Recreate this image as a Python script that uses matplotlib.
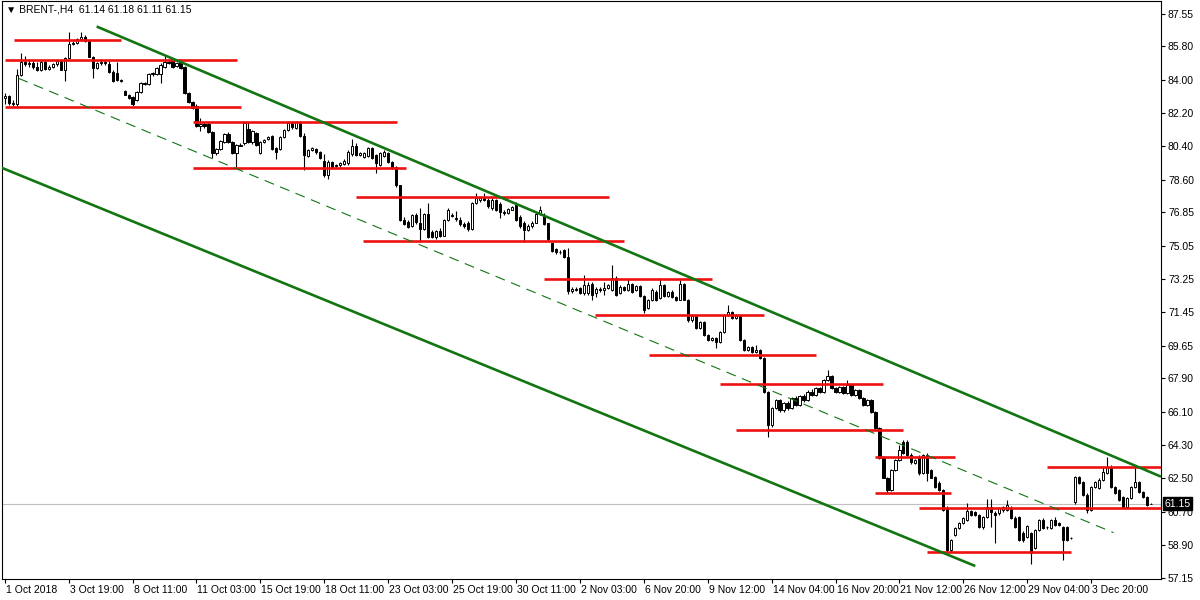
import numpy as np
import matplotlib
matplotlib.use("Agg")
import matplotlib.pyplot as plt
import matplotlib.transforms as mtransforms

plt.rcParams['font.family'] = ['Liberation Sans', 'DejaVu Sans']

# BRENT H4 candles (bar 0 = 1 Oct 2018)
opens = [83.0, 83.1, 82.75, 82.7, 84.25, 84.95, 84.85, 84.9, 84.7, 84.55,
         84.95, 84.6, 84.7, 84.85, 85.0, 84.55, 85.15, 85.9, 86.0, 86.2,
         86.3, 86.1, 85.25, 84.65, 84.9, 84.95, 84.85, 84.4, 84.35, 84.0,
         83.4, 83.2, 83.05, 82.9, 83.35, 83.8, 83.75, 84.3, 84.3, 84.3,
         84.7, 84.95, 85.0, 84.75, 84.95, 84.7, 83.3, 82.8, 82.6, 81.5,
         81.6, 81.6, 81.2, 80.05, 80.25, 80.65, 81.1, 80.65, 80.05, 80.5,
         80.6, 81.35, 80.65, 81.15, 80.05, 80.65, 80.8, 80.95, 80.3, 80.25,
         80.9, 81.3, 81.65, 81.4, 81.7, 80.95, 79.9, 80.2, 80.25, 80.1,
         79.6, 78.85, 79.55, 79.35, 79.4, 79.45, 79.5, 80.0, 80.4, 79.95,
         79.85, 79.9, 80.3, 79.95, 79.4, 79.9, 80.05, 79.55, 79.3, 78.3,
         76.45, 76.35, 76.1, 76.7, 76.3, 75.95, 76.75, 75.8, 75.5, 75.85,
         75.6, 76.45, 76.7, 76.55, 76.45, 76.2, 76.3, 75.95, 77.35, 77.5,
         77.7, 77.5, 77.1, 77.5, 77.3, 76.85, 76.8, 77.0, 77.25, 76.6,
         76.3, 75.9, 76.1, 76.3, 76.75, 76.7, 76.25, 75.2, 74.85, 74.7,
         74.8, 74.45, 72.6, 72.7, 72.75, 72.5, 72.5, 73.0, 72.5, 72.7,
         72.67, 72.77, 72.67, 73.31, 72.50, 72.83, 72.67, 72.99, 72.67, 72.88,
         72.34, 71.70, 72.13, 72.56, 72.24, 72.93, 72.34, 72.56, 72.29, 72.13,
         72.99, 72.13, 71.05, 71.26, 70.62, 70.94, 70.24, 69.97, 70.08, 69.86,
         70.40, 71.32, 71.48, 71.16, 71.26, 69.97, 69.43, 69.59, 69.32, 69.43,
         69.00, 67.16, 65.38, 66.30, 66.73, 66.19, 66.57, 66.30, 66.84, 66.46,
         66.95, 66.73, 67.16, 67.00, 67.38, 67.16, 67.81, 68.03, 67.38, 67.16,
         67.43, 67.11, 67.54, 67.00, 67.27, 66.84, 66.46, 66.73, 66.09, 65.22,
         63.60, 62.53, 61.88, 62.96, 63.50, 64.47, 64.47, 63.77, 63.33, 63.66,
         62.80, 63.77, 62.96, 62.58, 62.26, 61.88, 60.91, 58.64, 59.45, 59.83,
         60.10, 60.26, 60.75, 60.69, 60.53, 59.88, 60.42, 60.96, 60.64, 60.64,
         60.80, 60.80, 60.91, 60.37, 60.42, 59.56, 59.35, 59.56, 58.75, 59.72,
         60.26, 59.88, 59.83, 60.26, 60.10, 59.88, 59.88, 59.29, 61.23, 62.58,
         62.31, 61.61, 60.80, 62.04, 61.99, 62.42, 62.80, 63.12, 62.04, 61.88,
         61.50, 60.96, 61.45, 62.04, 62.31, 61.77, 61.50, 61.14]
highs = [83.3, 83.2, 82.9, 84.6, 85.45, 85.3, 85.1, 85.05, 84.95, 85.0,
         85.05, 84.8, 84.9, 85.1, 85.05, 85.2, 86.6, 86.1, 86.25, 86.55,
         86.4, 86.15, 85.3, 84.95, 85.1, 85.05, 85.0, 84.5, 84.95, 84.05,
         83.45, 83.25, 83.1, 83.4, 83.9, 83.9, 84.35, 84.4, 84.7, 84.9,
         85.3, 85.1, 85.05, 84.95, 85.0, 84.75, 83.35, 82.85, 82.7, 81.95,
         81.7, 81.7, 81.25, 80.3, 80.75, 81.15, 81.2, 80.7, 80.55, 80.6,
         81.8, 81.7, 81.3, 81.2, 80.7, 80.8, 80.95, 81.0, 80.35, 80.95,
         81.35, 81.75, 81.75, 81.8, 81.75, 81.15, 80.25, 80.35, 80.3, 80.15,
         80.0, 79.65, 79.6, 79.45, 79.55, 79.7, 80.2, 80.8, 80.6, 80.1,
         80.1, 80.35, 80.35, 80.0, 80.1, 80.2, 80.1, 79.6, 79.35, 78.35,
         76.6, 76.45, 76.75, 76.8, 77.1, 76.8, 77.35, 75.9, 75.9, 76.0,
         76.5, 77.1, 76.8, 76.9, 76.6, 76.35, 76.4, 77.4, 77.9, 77.7,
         77.9, 77.6, 77.6, 77.55, 77.4, 77.0, 77.1, 77.2, 77.4, 76.7,
         76.4, 76.2, 76.4, 76.8, 77.2, 76.8, 76.3, 75.25, 74.95, 74.8,
         74.85, 74.9, 72.8, 72.8, 72.85, 73.45, 73.1, 73.1, 72.8, 72.8,
         73.10, 73.0, 74.01, 73.4, 72.95, 72.9, 73.26, 73.05, 72.95, 72.95,
         72.4, 72.2, 72.75, 72.65, 73.31, 73.0, 72.6, 72.65, 72.35, 73.2,
         73.05, 72.2, 71.35, 71.3, 71.0, 71.0, 70.3, 70.15, 70.12, 70.45,
         71.35, 71.86, 71.55, 71.35, 71.3, 70.0, 69.65, 69.65, 69.70, 69.5,
         69.05, 67.2, 66.35, 66.8, 66.8, 66.65, 66.7, 66.9, 66.95, 67.0,
         67.05, 67.25, 67.3, 67.45, 67.45, 67.85, 68.35, 68.1, 67.45, 67.5,
         67.5, 67.81, 67.6, 67.3, 67.35, 66.9, 66.8, 66.8, 66.15, 65.3,
         63.7, 62.6, 62.99, 63.55, 64.30, 64.55, 64.58, 63.85, 63.55, 63.75,
         63.8, 63.88, 63.0, 62.65, 62.36, 61.95, 61.0, 59.25, 59.9, 60.15,
         60.42, 61.18, 60.8, 60.75, 60.6, 60.45, 61.40, 61.40, 60.75, 60.95,
         61.0, 61.34, 61.0, 60.45, 60.5, 59.65, 59.98, 59.6, 59.75, 60.3,
         60.35, 59.95, 60.3, 60.42, 60.15, 59.95, 59.95, 59.35, 62.65, 62.62,
         62.35, 61.7, 62.1, 62.36, 62.5, 63.12, 63.66, 63.2, 62.1, 61.95,
         61.55, 61.5, 62.1, 63.12, 62.35, 61.85, 61.55, 61.18]
lows = [82.7, 82.65, 82.6, 82.6, 84.2, 84.75, 84.7, 84.6, 84.45, 84.45,
        84.5, 84.5, 84.65, 84.75, 84.5, 83.95, 85.1, 85.85, 85.9, 86.1,
        86.05, 85.2, 84.1, 84.6, 84.8, 84.8, 84.35, 83.9, 83.95, 83.9,
        83.15, 82.95, 82.6, 82.85, 83.3, 83.7, 83.7, 84.2, 84.25, 83.85,
        84.65, 84.85, 84.65, 84.7, 84.6, 83.25, 82.75, 82.4, 81.45, 81.25,
        81.4, 81.15, 79.8, 79.95, 80.2, 80.6, 80.6, 80.0, 79.3, 80.4,
        80.5, 80.6, 80.55, 80.45, 80.0, 80.6, 80.75, 80.2, 79.7, 80.2,
        80.85, 81.25, 81.35, 81.35, 80.9, 79.15, 79.85, 80.15, 80.0, 79.75,
        78.75, 78.65, 79.25, 79.3, 79.3, 79.4, 79.4, 79.9, 79.9, 79.9,
        79.8, 79.85, 79.75, 78.95, 79.35, 79.85, 79.5, 79.2, 78.2, 76.4,
        76.15, 76.0, 76.05, 76.2, 75.25, 75.9, 75.45, 75.45, 75.4, 75.5,
        75.55, 76.4, 76.6, 76.4, 76.1, 76.0, 75.85, 75.9, 77.3, 77.4,
        77.45, 77.1, 77.0, 76.9, 76.55, 76.7, 76.75, 76.95, 76.4, 76.0,
        75.25, 75.85, 76.0, 76.25, 76.7, 76.15, 75.3, 74.7, 74.6, 74.6,
        74.4, 72.45, 72.5, 72.6, 72.45, 72.4, 72.4, 72.1, 72.3, 72.55,
        72.40, 72.7, 72.6, 72.35, 72.45, 72.6, 72.6, 72.5, 72.6, 72.3,
        71.42, 71.65, 72.05, 72.05, 72.2, 72.3, 72.3, 72.25, 72.05, 72.1,
        72.1, 70.95, 70.95, 70.55, 70.55, 70.2, 69.9, 69.9, 69.54, 69.8,
        70.35, 71.25, 71.1, 71.1, 69.9, 69.35, 69.35, 69.25, 69.25, 68.95,
        67.1, 64.74, 65.3, 66.25, 66.1, 66.1, 66.2, 66.25, 66.4, 66.4,
        66.65, 66.7, 66.95, 66.95, 67.1, 67.1, 67.75, 67.35, 67.1, 67.1,
        67.05, 67.05, 66.95, 66.95, 66.8, 66.4, 66.4, 66.05, 65.15, 63.55,
        62.5, 61.72, 61.8, 62.9, 63.45, 63.8, 63.7, 63.3, 63.3, 62.69,
        62.75, 62.36, 62.5, 62.0, 61.85, 60.75, 58.55, 58.55, 59.4, 59.78,
        60.05, 60.2, 60.45, 60.45, 59.85, 59.8, 60.35, 59.88, 59.02, 60.55,
        60.7, 60.75, 60.3, 59.85, 59.15, 59.1, 59.3, 57.89, 58.7, 59.65,
        59.8, 59.8, 59.78, 59.95, 59.95, 58.10, 59.15, 59.25, 61.15, 62.2,
        61.55, 60.64, 60.75, 62.0, 61.95, 62.35, 62.75, 62.0, 61.65, 61.3,
        60.9, 60.9, 61.4, 62.0, 61.7, 61.45, 61.0, 61.11]
closes = [83.1, 82.75, 82.7, 84.25, 84.95, 84.85, 84.9, 84.7, 84.55, 84.95,
          84.6, 84.7, 84.85, 85.0, 84.55, 85.15, 85.9, 86.0, 86.2, 86.3,
          86.1, 85.25, 84.65, 84.9, 84.95, 84.9, 84.4, 83.95, 84.0, 83.95,
          83.2, 83.0, 82.7, 83.35, 83.85, 83.75, 84.3, 84.35, 84.65, 84.8,
          84.95, 84.9, 84.7, 84.9, 84.65, 83.3, 82.8, 82.5, 81.5, 81.6,
          81.5, 81.2, 80.05, 80.25, 80.7, 81.1, 80.65, 80.05, 80.5, 80.45,
          81.65, 80.65, 81.25, 80.5, 80.65, 80.75, 80.9, 80.25, 80.1, 80.9,
          81.3, 81.65, 81.45, 81.7, 80.95, 79.95, 80.2, 80.3, 80.1, 79.8,
          78.85, 79.55, 79.3, 79.4, 79.5, 79.6, 80.1, 80.4, 79.95, 80.05,
          80.05, 80.3, 79.8, 79.5, 80.05, 80.1, 79.55, 79.3, 78.3, 76.45,
          76.2, 76.05, 76.7, 76.35, 75.95, 76.75, 75.5, 75.5, 75.85, 75.6,
          76.45, 76.95, 76.65, 76.5, 76.2, 76.1, 75.95, 77.35, 77.6, 77.6,
          77.5, 77.2, 77.5, 76.95, 76.85, 76.8, 77.05, 77.15, 76.45, 76.1,
          75.9, 76.1, 76.3, 76.75, 76.95, 76.2, 75.4, 74.75, 74.7, 74.7,
          74.45, 72.6, 72.7, 72.65, 72.5, 72.95, 72.95, 72.4, 72.7, 72.65,
          72.77, 72.93, 73.31, 72.40, 72.83, 72.67, 72.99, 72.56, 72.88, 72.34,
          71.59, 72.13, 72.67, 72.13, 72.93, 72.34, 72.56, 72.29, 72.13, 72.99,
          72.13, 71.05, 71.26, 70.62, 70.94, 70.24, 69.97, 70.08, 69.86, 70.40,
          71.32, 71.48, 71.16, 71.26, 69.97, 69.43, 69.59, 69.32, 69.43, 69.00,
          67.16, 65.38, 66.30, 66.73, 66.19, 66.57, 66.30, 66.84, 66.46, 66.95,
          66.73, 67.16, 67.00, 67.38, 67.16, 67.81, 68.03, 67.38, 67.16, 67.43,
          67.11, 67.54, 67.00, 67.27, 66.84, 66.46, 66.73, 66.09, 65.22, 63.60,
          62.53, 61.88, 62.96, 63.50, 64.04, 63.88, 63.77, 63.39, 63.50, 62.80,
          63.77, 62.80, 62.53, 62.04, 61.88, 60.80, 58.64, 59.18, 59.83, 60.10,
          60.37, 60.75, 60.53, 60.53, 59.88, 60.42, 60.96, 60.69, 60.53, 60.91,
          60.96, 61.07, 60.37, 59.88, 59.18, 59.18, 59.94, 58.48, 59.72, 60.26,
          59.83, 59.88, 60.26, 59.99, 59.99, 59.18, 59.18, 59.29, 62.58, 62.26,
          61.61, 60.80, 62.04, 62.31, 62.42, 62.85, 63.12, 62.04, 61.72, 61.34,
          60.96, 61.45, 62.04, 62.31, 61.77, 61.50, 61.07, 61.15]

# horizontal support / resistance levels: price, first bar, last bar
level_prices = [86.15, 85.07, 82.55, 81.74, 79.26, 77.70, 75.32, 73.26, 71.32,
                69.16, 67.60, 65.12, 63.68, 61.70, 60.91, 58.51, 63.13]
level_start = [2.2, 0, 0, 47.2, 47.2, 88, 89.7, 135, 147.7,
               161.2, 179.2, 183, 218, 218, 229, 231, 261]
level_end = [29.2, 58.2, 59.2, 98.2, 100.5, 151.2, 155, 177, 190,
             203, 220, 225, 238, 237, 290, 267, 290]

# channel lines: (bar, price) end points
upper_line = [(23, 86.87), (289.5, 62.60)]
lower_line = [(-0.75, 79.25), (243, 57.78)]
mid_line = [(3.4, 84.08), (277.6, 59.58)]

last_price = 61.15
header = "BRENT-,H4  61.14 61.18 61.11 61.15"

price_ticks = [87.55, 85.80, 84.00, 82.20, 80.40, 78.60, 76.85, 75.05, 73.25,
               71.45, 69.65, 67.90, 66.10, 64.30, 62.50, 60.70, 58.90, 57.15]
time_labels = ["1 Oct 2018", "3 Oct 19:00", "8 Oct 11:00", "11 Oct 03:00",
               "15 Oct 19:00", "18 Oct 11:00", "23 Oct 03:00", "25 Oct 19:00",
               "30 Oct 11:00", "2 Nov 03:00", "6 Nov 20:00", "9 Nov 12:00",
               "14 Nov 04:00", "16 Nov 20:00", "21 Nov 12:00", "26 Nov 12:00",
               "29 Nov 04:00", "3 Dec 20:00"]
time_label_every = 16

o = np.array(opens)
h = np.array(highs)
l = np.array(lows)
c = np.array(closes)
x = np.arange(len(c))

fig = plt.figure(figsize=(12, 6), dpi=100)
ax = fig.add_axes([0.0015, 0.035, 0.966, 0.9635])

ax.axhline(last_price, color="#c0c0c0", lw=0.8, zorder=1)

# wicks and bodies
lo = np.minimum(l, np.minimum(o, c))
hi = np.maximum(h, np.maximum(o, c))
ax.vlines(x, lo, hi, color="black", lw=0.8, zorder=3)
up = c >= o
body_bottom = np.minimum(o, c)
body_h = np.abs(c - o)
ax.bar(x, body_h, bottom=body_bottom, width=0.55,
       color=np.where(up, "white", "black"), edgecolor="black",
       linewidth=0.7, zorder=4)

# levels
ax.hlines(level_prices, level_start, level_end, colors="#ee1111", lw=1.9, zorder=5)

# channel
for pts in [upper_line, lower_line]:
    ax.plot([pts[0][0], pts[1][0]], [pts[0][1], pts[1][1]], color="#127512",
            lw=1.9, zorder=5, solid_capstyle="butt")
ax.plot([mid_line[0][0], mid_line[1][0]], [mid_line[0][1], mid_line[1][1]],
        color="#127512", lw=0.8, dashes=(9, 6), zorder=5)

ax.set_xlim(-0.75, 289.5)
ax.set_ylim(57.08, 88.25)

ax.yaxis.tick_right()
ax.set_yticks(price_ticks)
ax.set_yticklabels(["%.2f" % p for p in price_ticks])
ax.tick_params(axis="y", direction="out", length=3, width=0.8, labelsize=7.5, pad=2)

ax.set_xticks(np.arange(len(time_labels)) * time_label_every)
ax.set_xticklabels(time_labels, ha="left")
ax.tick_params(axis="x", direction="out", length=3, width=0.8, labelsize=7.5, pad=1)
for lab in ax.get_xticklabels():
    lab.set_transform(lab.get_transform() + mtransforms.ScaledTranslation(1 / 100, 0, fig.dpi_scale_trans))

for s in ax.spines.values():
    s.set_linewidth(0.8)
    s.set_color("black")

# current price tag on the axis
trans = mtransforms.blended_transform_factory(ax.transAxes, ax.transData)
ax.text(1.003, last_price, "%.2f" % last_price, transform=trans, fontsize=7.5,
        color="white", va="center", ha="left",
        bbox=dict(boxstyle="square,pad=0.15", fc="black", ec="black"), zorder=10,
        clip_on=False)

ax.text(0.004, 0.993, "\u25bc " + header, transform=ax.transAxes, fontsize=7.5,
        va="top", ha="left", color="black")

fig.savefig("out.png", dpi=100)
